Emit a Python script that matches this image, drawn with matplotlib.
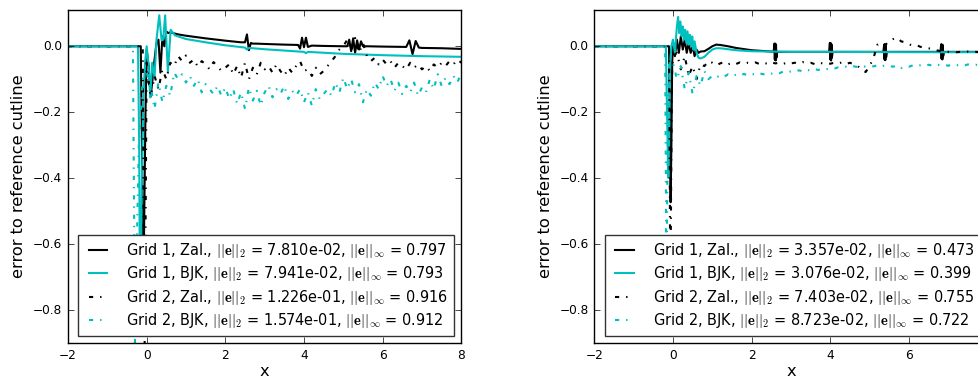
import numpy as np
import matplotlib
matplotlib.use("Agg")
import matplotlib.pyplot as plt

plt.style.use("classic")
plt.rcParams["font.family"] = ["DejaVu Sans"]
plt.rcParams["mathtext.fontset"] = "cm"

# ---------------- data ----------------
labels_left = [
    r"Grid 1, Zal., $||\mathbf{e}||_2$ = 7.810e-02, $||\mathbf{e}||_\infty$ = 0.797",
    r"Grid 1, BJK, $||\mathbf{e}||_2$ = 7.941e-02, $||\mathbf{e}||_\infty$ = 0.793",
    r"Grid 2, Zal., $||\mathbf{e}||_2$ = 1.226e-01, $||\mathbf{e}||_\infty$ = 0.916",
    r"Grid 2, BJK, $||\mathbf{e}||_2$ = 1.574e-01, $||\mathbf{e}||_\infty$ = 0.912",
]
labels_right = [
    r"Grid 1, Zal., $||\mathbf{e}||_2$ = 3.357e-02, $||\mathbf{e}||_\infty$ = 0.473",
    r"Grid 1, BJK, $||\mathbf{e}||_2$ = 3.076e-02, $||\mathbf{e}||_\infty$ = 0.399",
    r"Grid 2, Zal., $||\mathbf{e}||_2$ = 7.403e-02, $||\mathbf{e}||_\infty$ = 0.755",
    r"Grid 2, BJK, $||\mathbf{e}||_2$ = 8.723e-02, $||\mathbf{e}||_\infty$ = 0.722",
]

# ---- left panel, Grid 1 Zal. ----
L1Z_x = [-2.0, -0.2, -0.15, -0.12, -0.1, -0.07, -0.03, 0.0, 0.05, 0.1, 0.15, 0.2, 0.25, 0.3,
         0.35, 0.4, 0.45, 0.5, 0.55, 0.6, 0.8, 1.0, 1.5, 2.0, 2.4, 2.5, 2.55, 2.6, 2.65, 2.7,
         2.8, 3.0, 3.5, 3.85, 3.9, 3.95, 4.0, 4.05, 4.1, 4.2, 4.5, 5.0, 5.1, 5.15, 5.2, 5.25,
         5.3, 5.35, 5.4, 5.45, 5.5, 5.6, 6.0, 6.6, 6.68, 6.76, 6.84, 6.92, 7.0, 7.5, 8.0]
L1Z_y = [0.0, 0.0, 0.0, -0.3, -0.797, -0.6, -0.2, -0.01, -0.06, -0.153, -0.1, -0.04, 0.01, 0.02,
         -0.08, 0.03, 0.0, 0.045, 0.04, 0.042, 0.036, 0.032, 0.024, 0.017, 0.012, 0.012, 0.036,
         -0.012, 0.01, 0.008, 0.008, 0.007, 0.005, 0.004, -0.007, 0.026, -0.003, 0.026, -0.002,
         0.002, 0.001, 0.0, 0.0, 0.02, -0.015, 0.024, -0.02, 0.018, -0.01, 0.015, 0.0, 0.0,
         -0.001, -0.002, 0.018, -0.024, 0.016, -0.004, -0.005, -0.006, -0.008]

# ---- left panel, Grid 1 BJK ----
L1B_x = [-2.0, -0.22, -0.19, -0.17, -0.15, -0.12, -0.08, -0.04, 0.0, 0.05, 0.09, 0.14, 0.2,
         0.25, 0.32, 0.38, 0.42, 0.47, 0.54, 0.61, 0.72, 1.0, 1.5, 2.0, 2.5, 2.55, 2.6, 3.0,
         3.5, 4.0, 4.05, 4.1, 5.0, 6.0, 7.0, 8.0]
L1B_y = [0.0, 0.0, -0.3, -0.793, -0.7, -0.4, -0.15, -0.05, 0.0, -0.06, -0.155, -0.05, -0.094,
         0.02, 0.094, 0.018, 0.02, 0.094, -0.078, 0.05, 0.033, 0.022, 0.012, 0.003, -0.004,
         -0.01, -0.005, -0.009, -0.013, -0.017, -0.021, -0.017, -0.023, -0.027, -0.030, -0.032]

# noisy grid-2 series: sampled on x = 0.1 ... 8.0
x_noisy = list(np.round(np.arange(1, 81) * 0.1, 1))

L2Z_pre_x = [-2.0, -0.1, -0.08, -0.05, -0.02, 0.0]
L2Z_pre_y = [0.0, 0.0, -0.5, -0.916, -0.4, -0.05]
L2Z_y = [-0.155, -0.09, -0.13, -0.07, -0.10, -0.05, -0.06, -0.03, -0.045, -0.028,
         -0.05, -0.04, -0.062, -0.045, -0.055, -0.07, -0.048, -0.06, -0.075, -0.065,
         -0.055, -0.085, -0.06, -0.095, -0.05, -0.1, -0.065, -0.085, -0.05, -0.07,
         -0.06, -0.08, -0.055, -0.075, -0.09, -0.065, -0.08, -0.06, -0.045, -0.075,
         -0.07, -0.09, -0.065, -0.085, -0.075, -0.06, -0.045, -0.03, -0.01, 0.0,
         0.02, -0.015, 0.025, -0.02, 0.01, -0.03, -0.045, -0.035, -0.055, -0.04,
         -0.055, -0.045, -0.065, -0.05, -0.06, -0.07, -0.05, -0.065, -0.055, -0.07,
         -0.06, -0.075, -0.055, -0.065, -0.05, -0.06, -0.045, -0.055, -0.04, -0.05]

L2B_pre_x = [-2.0, -0.35, -0.32, -0.3, -0.25, -0.2, -0.1, 0.0]
L2B_pre_y = [0.0, 0.0, -0.5, -0.912, -0.6, -0.3, -0.1, -0.08]
L2B_y = [-0.12, -0.19, -0.11, -0.17, -0.12, -0.15, -0.08, -0.1, -0.085, -0.11,
         -0.09, -0.12, -0.1, -0.14, -0.115, -0.13, -0.145, -0.12, -0.15, -0.125,
         -0.16, -0.13, -0.175, -0.14, -0.19, -0.125, -0.165, -0.135, -0.18, -0.14,
         -0.12, -0.155, -0.13, -0.145, -0.12, -0.16, -0.135, -0.15, -0.13, -0.17,
         -0.14, -0.18, -0.13, -0.16, -0.145, -0.13, -0.15, -0.11, -0.14, -0.095,
         -0.13, -0.1, -0.14, -0.115, -0.17, -0.13, -0.15, -0.11, -0.13, -0.09,
         -0.12, -0.1, -0.135, -0.11, -0.145, -0.12, -0.14, -0.11, -0.15, -0.125,
         -0.14, -0.1, -0.13, -0.085, -0.12, -0.095, -0.115, -0.09, -0.11, -0.08]

# ---- right panel, Grid 1 Zal. ----
R1Z_x = [-2.0, -0.1, -0.08, -0.06, -0.04, -0.02, 0.0, 0.05, 0.1, 0.15, 0.2, 0.25, 0.3, 0.35,
         0.4, 0.45, 0.5, 0.55, 0.6, 0.65, 0.7, 0.8, 0.9, 1.0, 1.1, 1.2, 1.4, 1.6, 2.0, 2.5,
         2.56, 2.58, 2.59, 2.6, 2.61, 2.62, 2.63, 2.65, 3.0, 3.5,
         3.97, 3.99, 4.0, 4.01, 4.02, 4.03, 4.04, 4.06, 4.5, 5.0,
         5.35, 5.37, 5.38, 5.39, 5.4, 5.41, 5.42, 5.44, 6.0, 6.5,
         6.8, 6.82, 6.83, 6.84, 6.85, 6.86, 6.87, 6.89, 7.5, 8.0]
R1Z_y = [0.0, 0.0, -0.2, -0.473, -0.3, -0.05, 0.0, -0.03, 0.02, -0.02, 0.03, -0.01, 0.02, -0.02,
         0.01, -0.02, 0.0, -0.03, -0.01, -0.02, -0.016, -0.015, -0.008, 0.0, 0.005, 0.004, 0.0,
         -0.005, -0.012, -0.016,
         -0.016, 0.008, -0.04, 0.008, -0.043, 0.005, -0.035, -0.017, -0.017, -0.017,
         -0.017, 0.01, -0.04, 0.01, -0.043, 0.006, -0.035, -0.017, -0.017, -0.017,
         -0.017, 0.005, -0.04, 0.006, -0.042, 0.004, -0.033, -0.017, -0.017, -0.017,
         -0.017, 0.006, -0.038, 0.005, -0.04, 0.004, -0.03, -0.017, -0.017, -0.017]

# ---- right panel, Grid 1 BJK ----
R1B_x = [-2.0, -0.18, -0.15, -0.12, -0.1, -0.07, -0.04, 0.0, 0.05, 0.1, 0.13, 0.16, 0.19,
         0.22, 0.25, 0.28, 0.31, 0.34, 0.37, 0.4, 0.43, 0.46, 0.49, 0.52, 0.55, 0.6, 0.65,
         0.7, 0.8, 0.9, 1.0, 1.1, 1.2, 1.4, 1.6, 2.0, 3.0, 4.0, 6.0, 8.0]
R1B_y = [0.0, 0.0, -0.2, -0.399, -0.3, -0.05, 0.0, 0.02, -0.02, 0.06, 0.089, 0.04, 0.075,
         0.03, 0.06, 0.02, 0.05, 0.01, 0.045, 0.005, 0.035, 0.0, 0.03, -0.01, 0.015, -0.02,
         -0.035, -0.037, -0.032, -0.02, -0.01, -0.006, -0.006, -0.009, -0.012, -0.015,
         -0.017, -0.017, -0.018, -0.018]

R2Z_pre_x = [-2.0, -0.1, -0.08, -0.07, -0.05, -0.03, 0.0]
R2Z_pre_y = [0.0, 0.0, -0.4, -0.755, -0.5, -0.1, -0.03]
R2Z_y = [-0.02, -0.07, -0.03, -0.09, -0.06, -0.1, -0.055, -0.06, -0.045, -0.05,
         -0.058, -0.052, -0.048, -0.055, -0.05, -0.054, -0.049, -0.053, -0.05, -0.052,
         -0.049, -0.054, -0.05, -0.053, -0.048, -0.052, -0.05, -0.054, -0.049, -0.052,
         -0.05, -0.053, -0.048, -0.052, -0.05, -0.054, -0.049, -0.052, -0.05, -0.053,
         -0.05, -0.052, -0.049, -0.054, -0.05, -0.055, -0.06, -0.072, -0.078, -0.06,
         -0.035, 0.005, 0.012, 0.004, 0.016, 0.022, 0.026, 0.015, 0.012, 0.006,
         0.002, 0.003, -0.002, -0.004, -0.006, -0.01, -0.012, -0.015, -0.016, -0.017,
         -0.016, -0.018, -0.017, -0.018, -0.016, -0.018, -0.017, -0.018, -0.017, -0.018]

R2B_pre_x = [-2.0, -0.2, -0.18, -0.17, -0.15, -0.12, -0.1, 0.0]
R2B_pre_y = [0.0, 0.0, -0.4, -0.722, -0.5, -0.15, -0.05, -0.05]
R2B_y = [-0.1, -0.06, -0.13, -0.08, -0.145, -0.09, -0.12, -0.075, -0.1, -0.09,
         -0.095, -0.088, -0.093, -0.085, -0.091, -0.086, -0.09, -0.084, -0.088, -0.083,
         -0.087, -0.082, -0.085, -0.08, -0.083, -0.079, -0.082, -0.077, -0.08, -0.076,
         -0.078, -0.073, -0.076, -0.071, -0.074, -0.069, -0.072, -0.067, -0.07, -0.066,
         -0.068, -0.064, -0.066, -0.062, -0.065, -0.061, -0.063, -0.06, -0.062, -0.059,
         -0.061, -0.058, -0.062, -0.057, -0.06, -0.062, -0.058, -0.066, -0.06, -0.062,
         -0.058, -0.061, -0.057, -0.06, -0.056, -0.059, -0.055, -0.058, -0.056, -0.059,
         -0.055, -0.058, -0.056, -0.059, -0.055, -0.058, -0.056, -0.06, -0.057, -0.06]

xticks = [-2, 0, 2, 4, 6, 8]
yticks = [0.0, -0.2, -0.4, -0.6, -0.8]

# ---------------- plot ----------------
fig = plt.figure(figsize=(9.79, 3.81), dpi=100, facecolor="white")
W, H = 979.0, 381.0
axL = fig.add_axes([68 / W, 1 - 343 / H, 393.3 / W, 333 / H])
axR = fig.add_axes([594.3 / W, 1 - 343 / H, 393.3 / W, 333 / H])

def panel(ax, series, labels):
    styles = [dict(color="k", ls="-"), dict(color="c", ls="-"),
              dict(color="k", ls="-."), dict(color="c", ls="-.")]
    for (x, y), st, lab in zip(series, styles, labels):
        ax.plot(x, y, lw=1.5, label=lab, **st)
    ax.set_xlim(-2, 8)
    ax.set_ylim(-0.9, 0.11)
    ax.set_xticks(xticks)
    ax.set_yticks(yticks)
    ax.tick_params(labelsize=8.7, direction="in", top=True, right=True)
    ax.set_xlabel("x", fontsize=11.7, labelpad=2)
    ax.set_ylabel("error to reference cutline", fontsize=11.7)
    ax.set_facecolor("white")
    leg = ax.legend(loc="lower right", fontsize=10.45, frameon=True, fancybox=False,
                    labelspacing=0.3, handlelength=1.9, handletextpad=1.0,
                    borderpad=0.4, borderaxespad=0.5)
    leg.get_frame().set_edgecolor("#333333")

panel(axL, [(L1Z_x, L1Z_y), (L1B_x, L1B_y),
            (L2Z_pre_x + x_noisy, L2Z_pre_y + L2Z_y),
            (L2B_pre_x + x_noisy, L2B_pre_y + L2B_y)], labels_left)
panel(axR, [(R1Z_x, R1Z_y), (R1B_x, R1B_y),
            (R2Z_pre_x + x_noisy, R2Z_pre_y + R2Z_y),
            (R2B_pre_x + x_noisy, R2B_pre_y + R2B_y)], labels_right)

fig.savefig("out.png", dpi=100, facecolor="white")
